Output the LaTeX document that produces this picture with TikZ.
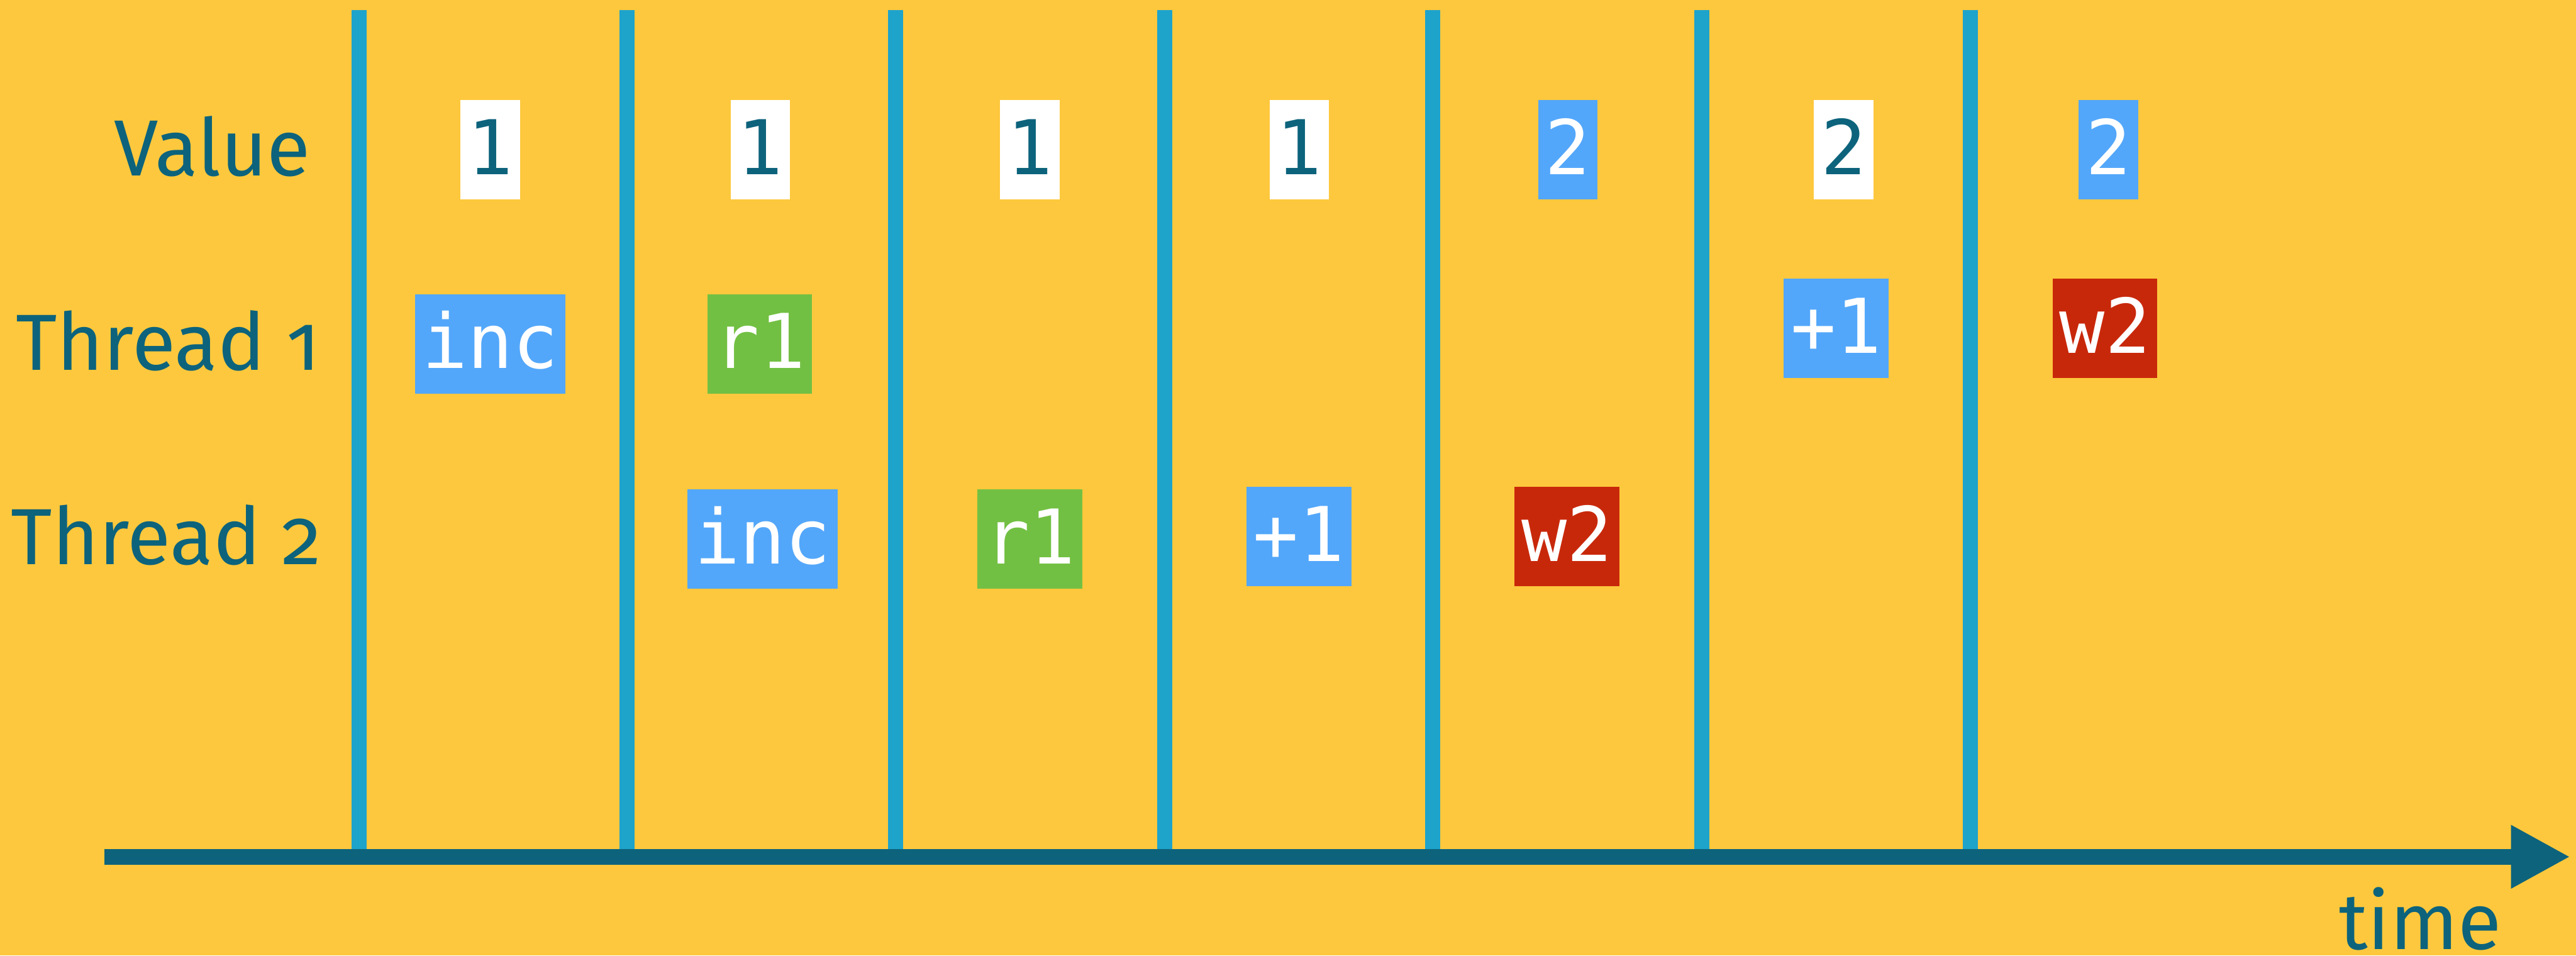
\documentclass[tikz,border=0pt]{standalone}
\usepackage{fontspec}
\setmainfont{Fira Sans}[Numbers=OldStyle]
\setmonofont{DejaVu Sans Mono}
\usetikzlibrary{arrows.meta}
\definecolor{bgyellow}{HTML}{FDC83D}
\definecolor{tickblue}{HTML}{1EA3CB}
\definecolor{darkteal}{HTML}{0D637C}
\definecolor{opblue}{HTML}{53A7FA}
\definecolor{opgreen}{HTML}{72C043}
\definecolor{opred}{HTML}{C8280A}
\begin{document}
\begin{tikzpicture}[scale=1,
    rowlabel/.style={anchor=base east, text=darkteal, font=\fontsize{39}{46}\selectfont},
    cell/.style={inner xsep=0.12cm, inner ysep=0pt, text height=1.28cm, text depth=0.43cm,
        font=\ttfamily\fontsize{37}{44}\selectfont},
    valbox/.style={cell, fill=white, text=darkteal},
    newval/.style={cell, fill=opblue, text=white},
    incop/.style={cell, fill=opblue, text=white},
    readop/.style={cell, fill=opgreen, text=white},
    writeop/.style={cell, fill=opred, text=white},
    tick/.style={tickblue, line width=0.26cm}]
            \useasboundingbox (0,0) rectangle (44.35,16.45);
            \fill[bgyellow] (0,0) rectangle (44.35,16.45);
            \draw[tick] (6.18,16.28) -- (6.18,1.7);
            \draw[tick] (10.80,16.28) -- (10.80,1.7);
            \draw[tick] (15.42,16.28) -- (15.42,1.7);
            \draw[tick] (20.05,16.28) -- (20.05,1.7);
            \draw[tick] (24.66,16.28) -- (24.66,1.7);
            \draw[tick] (29.30,16.28) -- (29.30,1.7);
            \draw[tick] (33.92,16.28) -- (33.92,1.7);
            \coordinate (start) at (1.8,1.7);
            \coordinate (end) at (44.25,1.7);
            \draw[darkteal, line width=0.27cm, -{Triangle[length=1.02cm, width=1.02cm]}] (start) -- (end);
            \node[rowlabel, anchor=base] (time) at (41.67,0.11) {time};
            \node[rowlabel] (value) at (5.47,13.42) {Value};
            \node[rowlabel] (thread1) at (5.64,10.08) {Thread 1};
            \node[rowlabel] (thread2) at (5.66,6.73) {Thread 2};
            \node[valbox] (v1) at (8.44,13.87) {1};
            \node[valbox] (v2) at (13.09,13.87) {1};
            \node[valbox] (v3) at (17.73,13.87) {1};
            \node[valbox] (v4) at (22.37,13.87) {1};
            \node[newval] (v5) at (26.99,13.87) {2};
            \node[valbox] (v6) at (31.74,13.87) {2};
            \node[newval] (v7) at (36.30,13.87) {2};
            \node[incop] (a1) at (8.44,10.53) {inc};
            \node[readop] (a2) at (13.08,10.53) {r1};
            \node[incop] (a6) at (31.61,10.80) {+1};
            \node[writeop] (a7) at (36.24,10.80) {w2};
            \node[incop] (b2) at (13.13,7.17) {inc};
            \node[readop] (b3) at (17.73,7.17) {r1};
            \node[incop] (b4) at (22.36,7.21) {+1};
            \node[writeop] (b5) at (26.98,7.21) {w2};
        \end{tikzpicture}
\end{document}
